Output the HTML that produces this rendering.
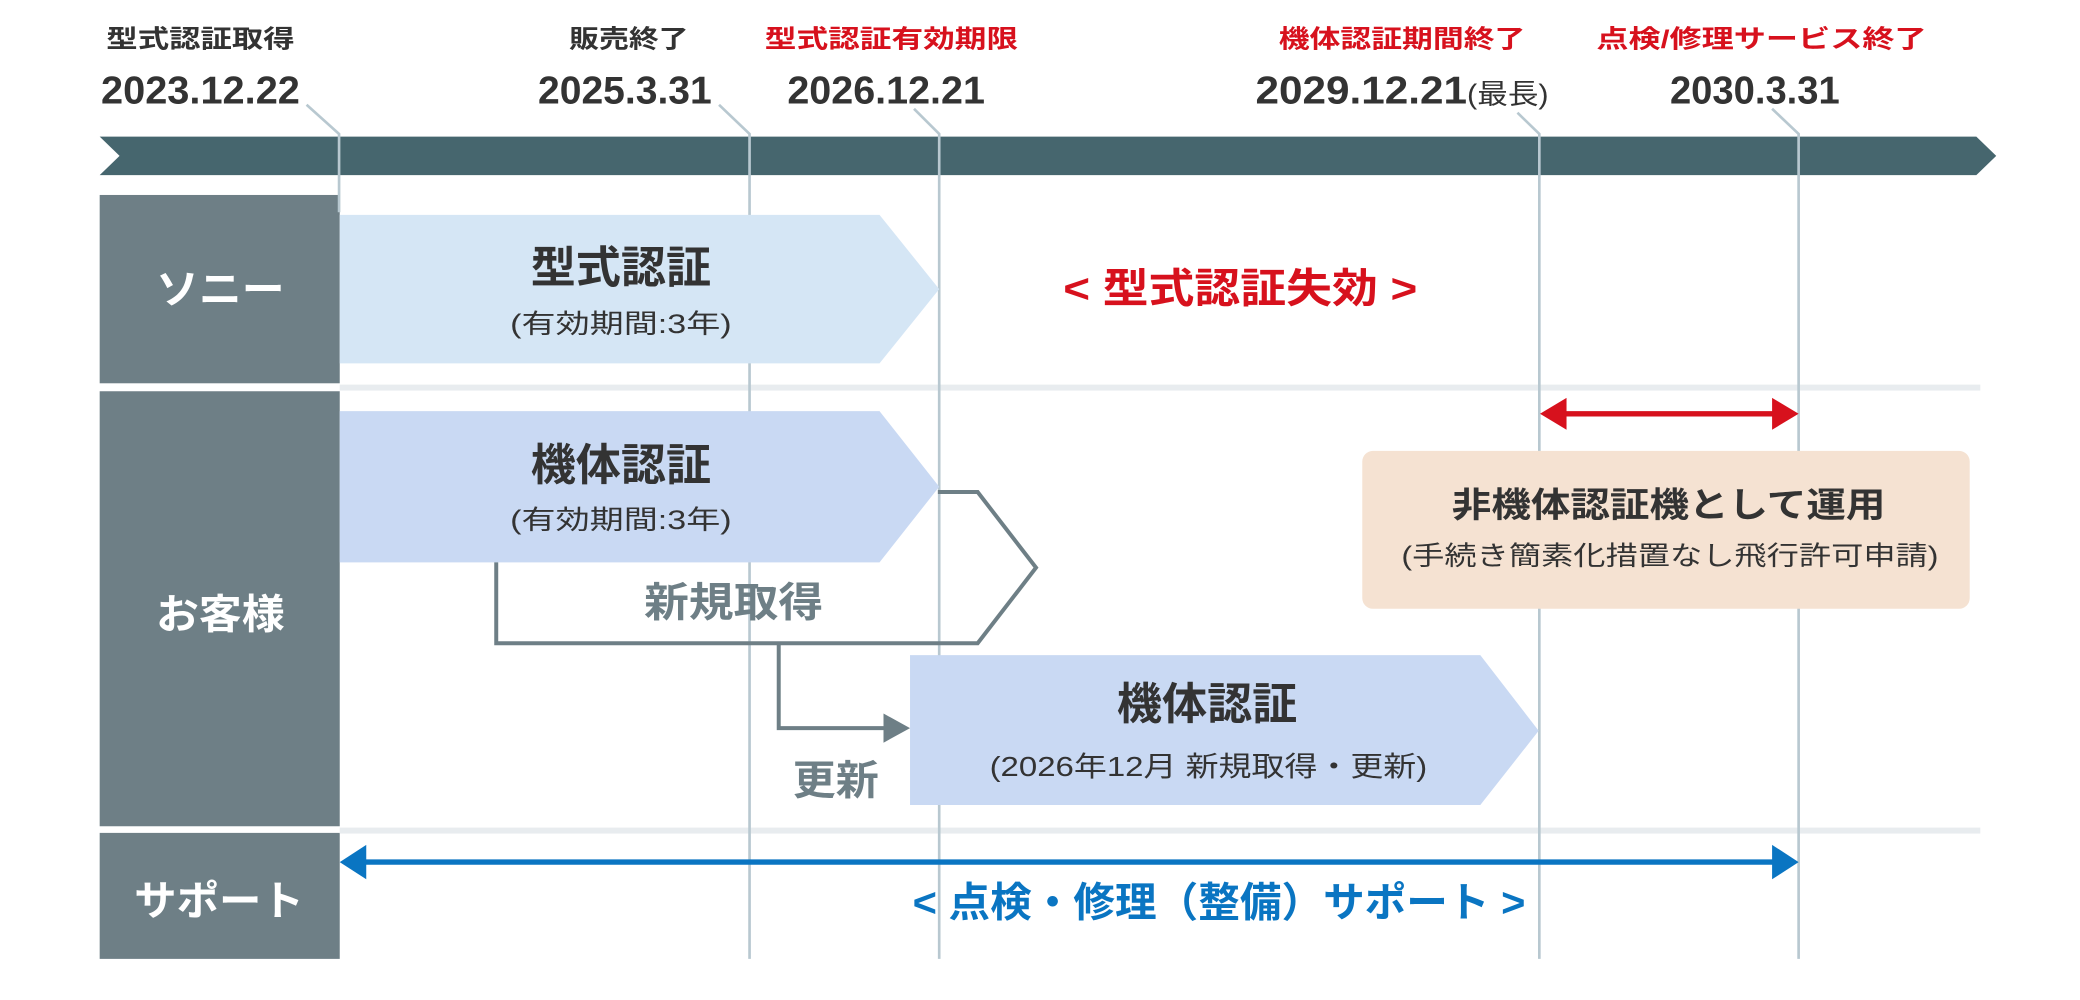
<!DOCTYPE html>
<html><head><meta charset="utf-8"><style>
html,body{margin:0;padding:0;background:#fff;}
svg{display:block;}
text{font-family:"Liberation Sans","Noto Sans CJK JP",sans-serif;}
</style></head><body>
<svg width="2080" height="1000" viewBox="0 0 1568 754" xmlns="http://www.w3.org/2000/svg">
<!-- top labels -->
<g font-size="19" text-anchor="middle" font-weight="bold">
<text x="151" y="36" fill="#333" textLength="142" lengthAdjust="spacingAndGlyphs">型式認証取得</text>
<text x="474" y="36" fill="#333" textLength="90" lengthAdjust="spacingAndGlyphs">販売終了</text>
<text x="672" y="36" fill="#d7111d" textLength="191" lengthAdjust="spacingAndGlyphs">型式認証有効期限</text>
<text x="1057" y="36" fill="#d7111d" textLength="186" lengthAdjust="spacingAndGlyphs">機体認証期間終了</text>
<text x="1328" y="36" fill="#d7111d" textLength="249" lengthAdjust="spacingAndGlyphs">点検/修理サービス終了</text>
</g>
<g font-size="29" font-weight="bold" fill="#333" text-anchor="middle">
<text x="151" y="78" textLength="150" lengthAdjust="spacingAndGlyphs">2023.12.22</text>
<text x="471" y="78" textLength="131" lengthAdjust="spacingAndGlyphs">2025.3.31</text>
<text x="668" y="78" textLength="149" lengthAdjust="spacingAndGlyphs">2026.12.21</text>
<text x="1057" y="78" textLength="221" lengthAdjust="spacingAndGlyphs">2029.12.21<tspan font-size="21" font-weight="normal">(最長)</tspan></text>
<text x="1323" y="78" textLength="128" lengthAdjust="spacingAndGlyphs">2030.3.31</text>
</g>
<!-- main bar -->
<polygon points="75,103 1490,103 1505,117.5 1490,132 75,132 90,117.5" fill="#46666e"/>
<!-- left columns -->
<rect x="75" y="147" width="181" height="142" fill="#6e7f86"/>
<rect x="75" y="295" width="181" height="328" fill="#6e7f86"/>
<rect x="75" y="628" width="181" height="95" fill="#6e7f86"/>
<rect x="256" y="290" width="1237" height="4.5" fill="#e8ecef"/>
<rect x="256" y="624" width="1237" height="4.5" fill="#e8ecef"/>
<g font-size="31" font-weight="bold" fill="#fff" text-anchor="middle">
<text x="166" y="229" textLength="97" lengthAdjust="spacingAndGlyphs">ソニー</text>
<text x="166" y="474" textLength="97" lengthAdjust="spacingAndGlyphs">お客様</text>
<text x="165" y="690" textLength="128" lengthAdjust="spacingAndGlyphs">サポート</text>
</g>
<!-- vertical lines -->
<g stroke="#b8c8d0" stroke-width="2" fill="none">
<polyline points="231,79 255.5,101 255.5,160"/>
<polyline points="542,79 565,101 565,723"/>
<polyline points="689,82 708,101 708,723"/>
<polyline points="1144,85 1160.5,101 1160.5,723"/>
<polyline points="1336,82 1356,101 1356,723"/>
</g>
<!-- arrow shapes -->
<polygon points="256,162 663,162 708,218 663,274 256,274" fill="#d5e6f5"/>
<polygon points="256,310 663,310 708,367 663,424 256,424" fill="#c9d9f3"/>
<polygon points="686,494 1116,494 1160,551 1116,607 686,607" fill="#c9d9f3"/>
<!-- 新規取得 outline -->
<polyline points="707,371 737,371 781,428 737,485 374,485 374,424" fill="none" stroke="#6e7f86" stroke-width="3"/>
<text x="553" y="465" font-size="31" font-weight="bold" fill="#6e7f86" text-anchor="middle" textLength="135" lengthAdjust="spacingAndGlyphs">新規取得</text>
<polyline points="587,485 587,549 668,549" fill="none" stroke="#6e7f86" stroke-width="3"/>
<polygon points="666,538 686,549 666,560" fill="#6e7f86"/>
<text x="630" y="599" font-size="31" font-weight="bold" fill="#6e7f86" text-anchor="middle" textLength="65" lengthAdjust="spacingAndGlyphs">更新</text>
<!-- arrow texts -->
<g fill="#333" text-anchor="middle">
<text x="468" y="213" font-size="33" font-weight="bold" textLength="136" lengthAdjust="spacingAndGlyphs">型式認証</text>
<text x="468" y="251" font-size="20" textLength="167" lengthAdjust="spacingAndGlyphs">(有効期間:3年)</text>
<text x="468" y="362" font-size="33" font-weight="bold" textLength="136" lengthAdjust="spacingAndGlyphs">機体認証</text>
<text x="468" y="399" font-size="20" textLength="167" lengthAdjust="spacingAndGlyphs">(有効期間:3年)</text>
<text x="910" y="542" font-size="33" font-weight="bold" textLength="136" lengthAdjust="spacingAndGlyphs">機体認証</text>
<text x="911" y="585" font-size="21" textLength="330" lengthAdjust="spacingAndGlyphs">(2026年12月 新規取得・更新)</text>
</g>
<!-- red -->
<text x="935" y="228" font-size="31" font-weight="bold" fill="#d7111d" text-anchor="middle" textLength="267" lengthAdjust="spacingAndGlyphs">&lt; 型式認証失効 &gt;</text>
<line x1="1175" y1="312" x2="1342" y2="312" stroke="#d7111d" stroke-width="4"/>
<polygon points="1161,312 1181,300 1181,324" fill="#d7111d"/>
<polygon points="1356,312 1336,300 1336,324" fill="#d7111d"/>
<!-- salmon box -->
<rect x="1027" y="340" width="458" height="119" rx="8" fill="#f5e2d2"/>
<text x="1258" y="390" font-size="26" font-weight="bold" fill="#333" text-anchor="middle" textLength="327" lengthAdjust="spacingAndGlyphs">非機体認証機として運用</text>
<text x="1259" y="426" font-size="20" fill="#333" text-anchor="middle" textLength="405" lengthAdjust="spacingAndGlyphs">(手続き簡素化措置なし飛行許可申請)</text>
<!-- blue -->
<line x1="270" y1="650" x2="1342" y2="650" stroke="#0a75c2" stroke-width="4"/>
<polygon points="256,650 276,637 276,663" fill="#0a75c2"/>
<polygon points="1356,650 1336,637 1336,663" fill="#0a75c2"/>
<text x="919" y="691" font-size="31" font-weight="bold" fill="#0a75c2" text-anchor="middle" textLength="462" lengthAdjust="spacingAndGlyphs">&lt; 点検・修理（整備）サポート &gt;</text>
</svg>
</body></html>
